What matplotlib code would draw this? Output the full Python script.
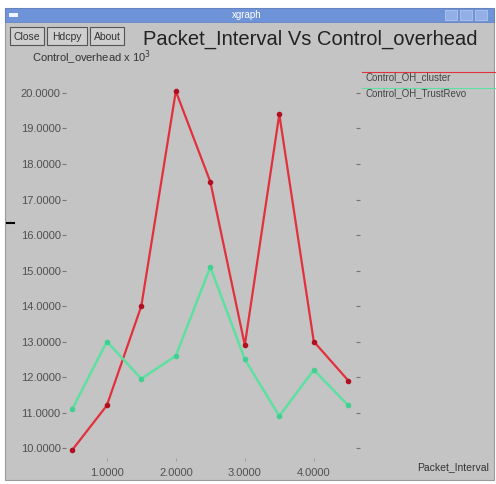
import matplotlib
matplotlib.use("Agg")
import matplotlib.pyplot as plt
from matplotlib.patches import Rectangle

# data
packet_interval = [0.5, 1.0, 1.5, 2.0, 2.5, 3.0, 3.5, 4.0, 4.5]
oh_cluster = [9.95, 11.2, 14.0, 20.05, 17.5, 12.9, 19.4, 13.0, 11.9]
oh_trustrevo = [11.1, 13.0, 11.95, 12.6, 15.1, 12.5, 10.9, 12.2, 11.2]
xticks = [1.0, 2.0, 3.0, 4.0]
yticks = [10, 11, 12, 13, 14, 15, 16, 17, 18, 19, 20]
series_names = ["Control_OH_cluster", "Control_OH_TrustRevo"]

W, H = 496, 484
bg = "#c4c4c4"
red = "#e2303c"
green = "#5ee0a0"
txt = "#505050"
plt.rcParams["font.family"] = ["Liberation Sans", "DejaVu Sans"]

fig = plt.figure(figsize=(W / 100, H / 100), dpi=100)
fig.patch.set_facecolor("white")

def fx(x):
    return x / W

def fy(y):
    return 1 - y / H

# window frame (behind the axes)
fig.patches.append(Rectangle((fx(5), fy(480)), fx(489), 472 / H, transform=fig.transFigure,
                             facecolor=bg, edgecolor="#9a9a9a", lw=0.8, zorder=-10))
# title bar
fig.patches.append(Rectangle((fx(5), fy(22)), fx(489), 14 / H,
                             transform=fig.transFigure, facecolor="#6f93d8", edgecolor="#5a7cc0", lw=0.5))
fig.text(fx(247), fy(15), "xgraph", color="white", fontsize=7, ha="center", va="center")
for bx in [451, 466, 481]:
    fig.patches.append(Rectangle((fx(bx - 6), fy(20)), 12 / W, 10 / H,
                                 transform=fig.transFigure, facecolor="#93afe6", edgecolor="#b8ccf0", lw=0.5))
fig.patches.append(Rectangle((fx(9), fy(17)), 9 / W, 4 / H, transform=fig.transFigure,
                             facecolor="#eef3ff", edgecolor="none"))

# buttons
for label, x0, x1 in [("Close", 10, 44), ("Hdcpy", 47, 87), ("About", 90, 124)]:
    fig.patches.append(Rectangle((fx(x0), fy(45)), (x1 - x0) / W, 18 / H,
                                 transform=fig.transFigure, facecolor="#cfcfcf", edgecolor="#555555", lw=0.8))
    fig.text(fx((x0 + x1) / 2), fy(36.5), label, fontsize=7.5, color="#333333", ha="center", va="center")

fig.text(fx(143), fy(45), "Packet_Interval Vs Control_overhead", fontsize=14.5,
         color="#222222", ha="left", va="baseline")
fig.text(fx(32), fy(62), r"Control_overhead x 10$^3$", fontsize=8, color="#333333",
         ha="left", va="baseline")
fig.text(fx(417), fy(470), "Packet_Interval", fontsize=7.5, color="#333333", ha="left", va="baseline")

# small black mark on left edge
fig.lines.append(plt.Line2D([fx(7), fx(14)], [fy(223), fy(223)], transform=fig.transFigure,
                            color="black", lw=1.5))

# plot area: x px 62..360, y px 85..458
ax = fig.add_axes([fx(62), fy(458), (360 - 62) / W, (458 - 85) / H])
ax.patch.set_alpha(0)
for s in ax.spines.values():
    s.set_visible(False)

ax.plot(packet_interval, oh_cluster, color=red, lw=1.6, marker="o", ms=3,
        mfc="#b01020", mec="#b01020", label=series_names[0])
ax.plot(packet_interval, oh_trustrevo, color=green, lw=1.8, marker="o", ms=3,
        mfc="#40d090", mec="#40d090", label=series_names[1])

ax.set_xlim(0.35, 4.67)
ax.set_ylim(9.72, 20.225)
ax.set_xticks(xticks)
ax.set_xticklabels(["%.4f" % v for v in xticks])
ax.set_yticks(yticks)
ax.set_yticklabels(["%.4f" % v for v in yticks])
ax.tick_params(axis="y", direction="in", length=3, width=0.8, color="#777777", labelsize=8,
               labelcolor=txt, right=True, pad=1)
ax.tick_params(axis="x", direction="out", length=2, width=0.6, color="#999999", labelsize=8,
               labelcolor=txt, pad=5)

# legend like xgraph: text with coloured line above
fig.lines.append(plt.Line2D([fx(362), fx(496)], [fy(72), fy(72)], transform=fig.transFigure,
                            color=red, lw=0.8))
fig.text(fx(365), fy(80), series_names[0], fontsize=7, color="#444444", ha="left", va="baseline")
fig.lines.append(plt.Line2D([fx(362), fx(496)], [fy(88), fy(88)], transform=fig.transFigure,
                            color=green, lw=0.8))
fig.text(fx(365), fy(96), series_names[1], fontsize=7, color="#444444", ha="left", va="baseline")

fig.savefig("out.png", dpi=100, facecolor="white")
